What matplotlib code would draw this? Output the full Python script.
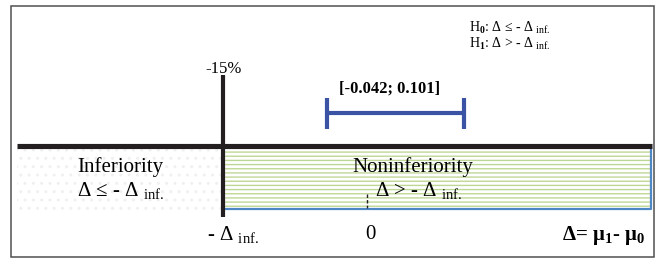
import matplotlib
matplotlib.use('Agg')
import matplotlib.pyplot as plt
from matplotlib.patches import Rectangle

# noninferiority margin and confidence interval (difference of means)
margin = -0.15
margin_label = '-15%'
ci = [-0.042, 0.101]
ci_label = '[-0.042; 0.101]'
zero = 0.0
regions = ['Inferiority', 'Noninferiority']
region_rules = [r'Δ ≤ - Δ $_{\mathrm{inf.}}$', r'Δ > - Δ $_{\mathrm{inf.}}$']
hypotheses = [r'H$_\mathbf{0}$: Δ ≤ - Δ $_{\mathrm{inf.}}$',
              r'H$_\mathbf{1}$: Δ > - Δ $_{\mathrm{inf.}}$']

plt.rcParams['font.family'] = ['Liberation Serif', 'DejaVu Serif']
plt.rcParams['mathtext.fontset'] = 'custom'
plt.rcParams['mathtext.rm'] = 'Liberation Serif'
plt.rcParams['mathtext.it'] = 'Liberation Serif:italic'
plt.rcParams['mathtext.bf'] = 'Liberation Serif:bold'

ink = '#231f20'
fig = plt.figure(figsize=(6.57, 2.59), dpi=100)
ax = fig.add_axes([0, 0, 1, 1])
ax.set_xlim(-0.383, 0.303)
ax.set_ylim(259, 0)
ax.axis('off')

# outer frame
ax.add_patch(Rectangle((0.0167, 0.0077), 0.9787, 0.969, transform=ax.transAxes,
                       fill=False, lw=1.1, ec='#505050'))

x_left, x_right = -0.365, 0.2966

# inferiority region (dotted) and noninferiority region (green stripes)
ax.add_patch(Rectangle((x_left, 149), margin - x_left, 61, fc='white',
                       ec='#f0f0f0', lw=0, hatch='..'))
ax.add_patch(Rectangle((margin, 149), x_right - margin, 60, fc='white',
                       ec='#bfd795', lw=0, hatch='----'))
ax.plot([margin, x_right, x_right], [209, 209, 148], color='#4f86c6', lw=1.6)

# main axis and margin line
ax.hlines(146, x_left, x_right + 0.001, color=ink, lw=3.7)
ax.vlines(margin, 75, 217, color=ink, lw=3)
ax.vlines(zero, 194, 208, color=ink, lw=1, linestyles=(0, (2.5, 1.5)))

# confidence interval
blue = '#3a53a4'
ax.hlines(113, ci[0], ci[1], color=blue, lw=3)
ax.vlines(ci, 98, 129, color=blue, lw=3)

ax.text(margin, 73, margin_label, ha='center', va='baseline', fontsize=12)
ax.text(sum(ci) / 2 - 0.006, 93, ci_label, ha='center', va='baseline',
        fontsize=12, fontweight='bold')

ax.text(0.183, 172, regions[0], transform=ax.get_yaxis_transform(),
        ha='center', va='baseline', fontsize=15)
ax.text(0.117, 196, region_rules[0], transform=ax.get_yaxis_transform(),
        ha='left', va='baseline', fontsize=15)
ax.text(0.629, 172, regions[1], transform=ax.get_yaxis_transform(),
        ha='center', va='baseline', fontsize=15)
ax.text(0.571, 196, region_rules[1], transform=ax.get_yaxis_transform(),
        ha='left', va='baseline', fontsize=15)

ax.text(0.315, 240, r'- Δ $_{\mathrm{inf.}}$', transform=ax.get_yaxis_transform(),
        ha='left', va='baseline', fontsize=15)
ax.text(zero + 0.004, 239, '0', ha='center', va='baseline', fontsize=15)
ax.text(0.982, 240, r'Δ= μ$_\mathbf{1}$- μ$_\mathbf{0}$', transform=ax.get_yaxis_transform(),
        ha='right', va='baseline', fontsize=15, fontweight='bold')

for i, h in enumerate(hypotheses):
    ax.text(0.714, 32 + 15.5 * i, h, transform=ax.get_yaxis_transform(),
            ha='left', va='baseline', fontsize=10)

plt.savefig('out.png', dpi=100)
